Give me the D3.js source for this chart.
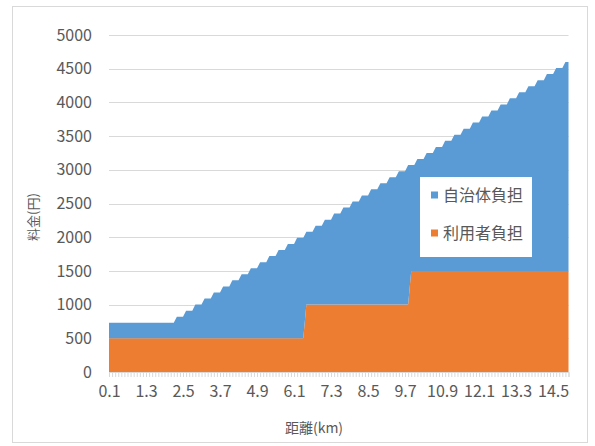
<!DOCTYPE html>
<html>
<head>
<meta charset="utf-8">
<script src="https://cdn.jsdelivr.net/npm/d3@7"></script>
<style>
  body { margin: 0; background: #fff; }
  text { font-family: "Noto Sans CJK JP", "Noto Sans", sans-serif; fill: #595959; }
</style>
</head>
<body>
<svg width="595" height="446"></svg>
<script>
// distance categories (km)
var categories = [
  "0.1","0.2","0.3","0.4","0.5","0.6","0.7","0.8","0.9","1.0",
  "1.1","1.2","1.3","1.4","1.5","1.6","1.7","1.8","1.9","2.0",
  "2.1","2.2","2.3","2.4","2.5","2.6","2.7","2.8","2.9","3.0",
  "3.1","3.2","3.3","3.4","3.5","3.6","3.7","3.8","3.9","4.0",
  "4.1","4.2","4.3","4.4","4.5","4.6","4.7","4.8","4.9","5.0",
  "5.1","5.2","5.3","5.4","5.5","5.6","5.7","5.8","5.9","6.0",
  "6.1","6.2","6.3","6.4","6.5","6.6","6.7","6.8","6.9","7.0",
  "7.1","7.2","7.3","7.4","7.5","7.6","7.7","7.8","7.9","8.0",
  "8.1","8.2","8.3","8.4","8.5","8.6","8.7","8.8","8.9","9.0",
  "9.1","9.2","9.3","9.4","9.5","9.6","9.7","9.8","9.9","10.0",
  "10.1","10.2","10.3","10.4","10.5","10.6","10.7","10.8","10.9","11.0",
  "11.1","11.2","11.3","11.4","11.5","11.6","11.7","11.8","11.9","12.0",
  "12.1","12.2","12.3","12.4","12.5","12.6","12.7","12.8","12.9","13.0",
  "13.1","13.2","13.3","13.4","13.5","13.6","13.7","13.8","13.9","14.0",
  "14.1","14.2","14.3","14.4","14.5","14.6","14.7","14.8","14.9","15.0"
];

// 利用者負担
var userFee = [
  500,500,500,500,500,500,500,500,500,500,
  500,500,500,500,500,500,500,500,500,500,
  500,500,500,500,500,500,500,500,500,500,
  500,500,500,500,500,500,500,500,500,500,
  500,500,500,500,500,500,500,500,500,500,
  500,500,500,500,500,500,500,500,500,500,
  500,500,500,500,1000,1000,1000,1000,1000,1000,
  1000,1000,1000,1000,1000,1000,1000,1000,1000,1000,
  1000,1000,1000,1000,1000,1000,1000,1000,1000,1000,
  1000,1000,1000,1000,1000,1000,1000,1000,1500,1500,
  1500,1500,1500,1500,1500,1500,1500,1500,1500,1500,
  1500,1500,1500,1500,1500,1500,1500,1500,1500,1500,
  1500,1500,1500,1500,1500,1500,1500,1500,1500,1500,
  1500,1500,1500,1500,1500,1500,1500,1500,1500,1500,
  1500,1500,1500,1500,1500,1500,1500,1500,1500,1500
];

// 自治体負担
var cityFee = [
  230,230,230,230,230,230,230,230,230,230,
  230,230,230,230,230,230,230,230,230,230,
  230,230,320,320,320,410,410,410,500,500,
  500,590,590,590,680,680,680,770,770,770,
  860,860,860,950,950,950,1040,1040,1040,1130,
  1130,1130,1220,1220,1220,1310,1310,1310,1400,1400,
  1400,1490,1490,1490,1080,1080,1080,1170,1170,1170,
  1260,1260,1260,1350,1350,1350,1440,1440,1440,1530,
  1530,1530,1620,1620,1620,1710,1710,1710,1800,1800,
  1800,1890,1890,1890,1980,1980,1980,2070,1570,1570,
  1660,1660,1660,1750,1750,1750,1840,1840,1840,1930,
  1930,1930,2020,2020,2020,2110,2110,2110,2200,2200,
  2200,2290,2290,2290,2380,2380,2380,2470,2470,2470,
  2560,2560,2560,2650,2650,2650,2740,2740,2740,2830,
  2830,2830,2920,2920,2920,3010,3010,3010,3100,3100
];

var yTicks = [0, 500, 1000, 1500, 2000, 2500, 3000, 3500, 4000, 4500, 5000];
var seriesNames = ["自治体負担", "利用者負担"];
var colors = { "利用者負担": "#ED7D31", "自治体負担": "#5B9BD5" };

var svg = d3.select("svg");

// chart border
svg.append("rect")
    .attr("x", 12.5).attr("y", 6.5)
    .attr("width", 575).attr("height", 436)
    .attr("fill", "none")
    .attr("stroke", "#d9d9d9");

var xScale = d3.scalePoint().domain(categories).range([109, 568.5]),
    yScale = d3.scaleLinear().domain([0, 5000]).range([372, 35]);

// gridlines
svg.append("g")
    .selectAll("line")
    .data(yTicks.slice(1))
    .enter().append("line")
    .attr("x1", 109).attr("x2", 568.5)
    .attr("y1", d => Math.round(yScale(d)) + 0.5)
    .attr("y2", d => Math.round(yScale(d)) + 0.5)
    .attr("stroke", "#d9d9d9");

// stacked areas
var rows = categories.map((c, i) => ({ cat: c, "利用者負担": userFee[i], "自治体負担": cityFee[i] }));
var stack = d3.stack().keys(["利用者負担", "自治体負担"])(rows);

var area = d3.area()
    .x(d => xScale(d.data.cat))
    .y0(d => yScale(d[0]))
    .y1(d => yScale(d[1]));

svg.append("g")
    .selectAll("path")
    .data(stack)
    .enter().append("path")
    .attr("d", area)
    .attr("fill", d => colors[d.key]);

// x axis
var xAxis = svg.append("g")
    .attr("transform", "translate(0," + yScale(0) + ")")
    .call(d3.axisBottom(xScale)
        .tickSize(5)
        .tickFormat((d, i) => i % 12 === 0 ? d : ""));
xAxis.select(".domain").attr("stroke", "#d9d9d9");
xAxis.selectAll(".tick line").attr("stroke", "#d9d9d9");
xAxis.selectAll(".tick text")
    .attr("y", 14)
    .style("font-size", "16px")
    .attr("fill", "#595959");

// y axis
var yAxis = svg.append("g")
    .attr("transform", "translate(92,0)")
    .call(d3.axisLeft(yScale).tickValues(yTicks).tickSize(0).tickFormat(d3.format("d")));
yAxis.select(".domain").remove();
yAxis.selectAll(".tick text")
    .attr("x", 0)
    .style("font-size", "16px")
    .attr("fill", "#595959");

// axis titles
svg.append("text")
    .attr("transform", "rotate(-90)")
    .attr("x", -217)
    .attr("y", 38)
    .attr("text-anchor", "middle")
    .style("font-size", "13px")
    .text("料金(円)");

svg.append("text")
    .attr("x", 314)
    .attr("y", 433)
    .attr("text-anchor", "middle")
    .style("font-size", "14px")
    .text("距離(km)");

// legend
var legend = svg.append("g");
legend.append("rect")
    .attr("x", 420).attr("y", 177)
    .attr("width", 112).attr("height", 80)
    .attr("fill", "#fff");

var item = legend.selectAll(".item")
    .data(seriesNames)
    .enter().append("g")
    .attr("transform", (d, i) => "translate(431," + (195 + i * 38) + ")");
item.append("rect")
    .attr("x", 0).attr("y", -3.5)
    .attr("width", 7).attr("height", 7)
    .attr("fill", d => colors[d]);
item.append("text")
    .attr("x", 12)
    .attr("y", 5.5)
    .style("font-size", "16px")
    .text(d => d);
</script>
</body>
</html>
